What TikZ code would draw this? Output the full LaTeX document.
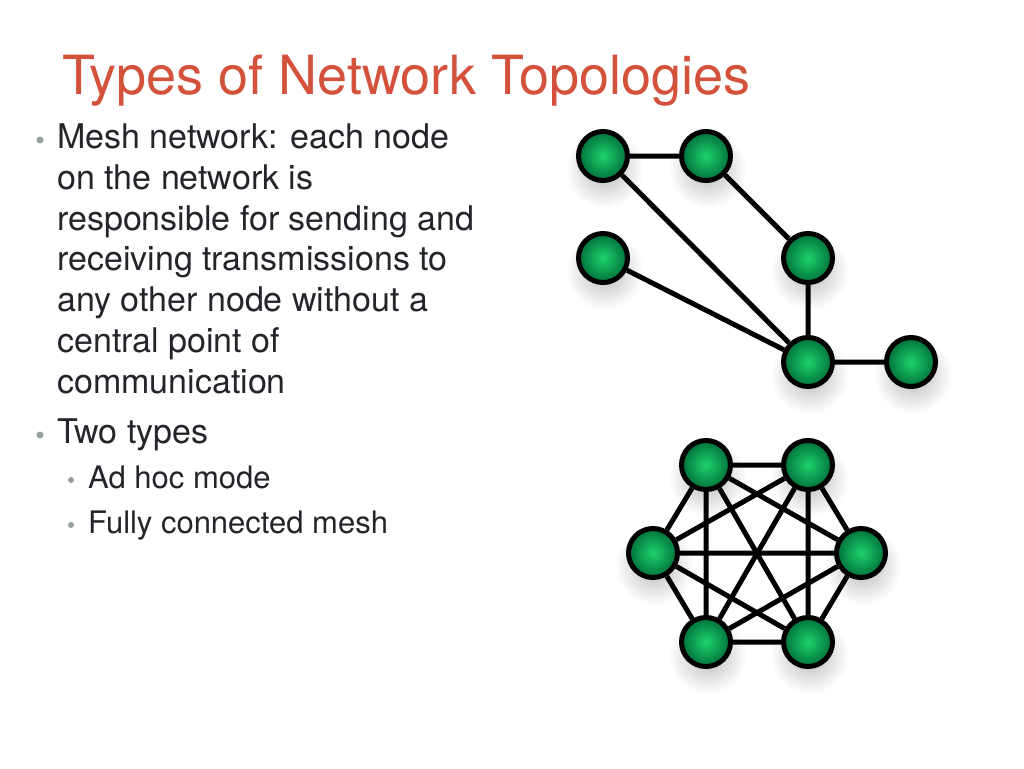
\documentclass[tikz,border=0pt]{standalone}
\usepackage{fontspec}
\setmainfont{TeX Gyre Heros}
\usetikzlibrary{shadows}

\definecolor{titlered}{RGB}{212,82,60}
\definecolor{bodytext}{RGB}{36,36,42}
\definecolor{bulletgray}{RGB}{150,160,158}
\definecolor{hostlight}{RGB}{30,210,110}
\definecolor{hostdark}{RGB}{0,112,58}

\tikzset{
  host/.style={circle, draw=black, line width=5pt, minimum size=49pt, inner sep=0pt,
    inner color=hostlight, outer color=hostdark,
    general shadow={shadow xshift=1pt, shadow yshift=-8pt, shadow scale=1.6, inner color=black!28, outer color=white}},
  link/.style={draw=black, line width=5pt},
  mainline/.style={anchor=base west, inner sep=0pt, text=bodytext, font=\fontsize{34}{41}\selectfont},
  subline/.style={mainline, font=\fontsize{31}{37}\selectfont},
  dot/.style={circle, fill=bulletgray, inner sep=0pt, minimum size=7pt}
}

\begin{document}
\begin{tikzpicture}[x=1pt, y=-1pt]
	    \useasboundingbox[fill=white] (0,0) rectangle (1024,768);
	    % title
	    \node[anchor=base west, inner sep=0pt, text=titlered, font=\fontsize{54}{60}\selectfont] (title) at (62,94) {Types of Network Topologies};
	    % bullets
	    \node[dot] (b1) at (40,140) {};
	    \node[mainline] (l1) at (57,148) {Mesh network: each node};
	    \node[mainline] (l2) at (57,189) {on the network is};
	    \node[mainline] (l3) at (57,230) {responsible for sending and};
	    \node[mainline] (l4) at (57,270) {receiving transmissions to};
	    \node[mainline] (l5) at (57,311) {any other node without a};
	    \node[mainline] (l6) at (57,352) {central point of};
	    \node[mainline] (l7) at (57,393) {communication};
	    \node[dot] (b2) at (40,435) {};
	    \node[mainline] (l8) at (57,443) {Two types};
	    \node[dot, minimum size=6pt] (b3) at (71,480) {};
	    \node[subline] (s1) at (88,488) {Ad hoc mode};
	    \node[dot, minimum size=6pt] (b4) at (71,525) {};
	    \node[subline] (s2) at (88,533) {Fully connected mesh};
	    % partial mesh
	    \node[host] (p1) at (603,156) {};
	    \node[host] (p2) at (706,156) {};
	    \node[host] (p3) at (603,258) {};
	    \node[host] (p4) at (808,258) {};
	    \node[host] (p5) at (808,362) {};
	    \node[host] (p6) at (911,362) {};
	    \draw[link] (p1) -- (p2) (p1) -- (p5) (p2) -- (p4) (p3) -- (p5) (p4) -- (p5) (p5) -- (p6);
	    % full mesh
	    \node[host] (m1) at (706,465) {};
	    \node[host] (m2) at (808,465) {};
	    \node[host] (m3) at (861,553) {};
	    \node[host] (m4) at (808,642) {};
	    \node[host] (m5) at (706,642) {};
	    \node[host] (m6) at (653,553) {};
	    \draw[link] (m1) -- (m2) (m1) -- (m3) (m1) -- (m4) (m1) -- (m5) (m1) -- (m6);
	    \draw[link] (m2) -- (m3) (m2) -- (m4) (m2) -- (m5) (m2) -- (m6);
	    \draw[link] (m3) -- (m4) (m3) -- (m5) (m3) -- (m6);
	    \draw[link] (m4) -- (m5) (m4) -- (m6) (m5) -- (m6);
	  \end{tikzpicture}
\end{document}
